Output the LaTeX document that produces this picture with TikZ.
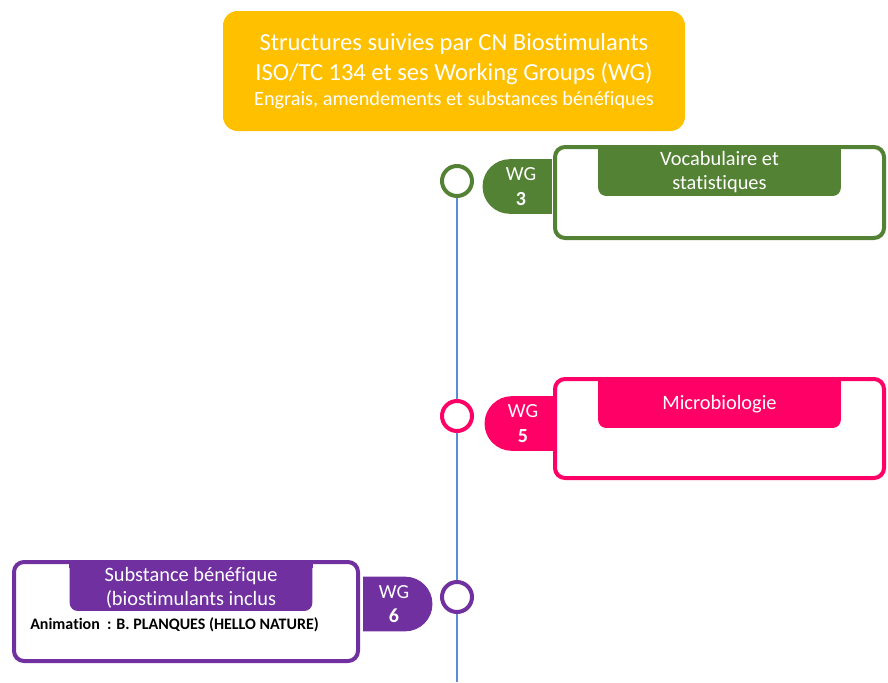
\documentclass[tikz,border=0pt]{standalone}
\usepackage{fontspec}
\setmainfont[Ligatures=NoCommon]{Carlito}
\usetikzlibrary{positioning,shapes.misc}
\definecolor{wggold}{HTML}{FFC000}
\definecolor{wggreen}{HTML}{548235}
\definecolor{wgpink}{HTML}{FF0066}
\definecolor{wgpurple}{HTML}{7030A0}
\definecolor{wgline}{HTML}{5B8DD6}
\tikzset{
  header/.style={
    fill=wggold,
    rounded corners=11pt,
    minimum width=346.5pt,
    minimum height=90pt,
    align=center,
    text=white,
    font=\fontsize{18.4}{22.5}\selectfont
  },
  milestone/.style={circle, draw=#1, line width=3pt, fill=white, minimum size=22.5pt, inner sep=0pt},
  wgtab/.style={rounded rectangle, fill=#1, minimum width=54pt, minimum height=41pt, text=white,
    align=center, inner sep=1pt, font=\fontsize{15}{18.5}\selectfont},
  groupbox/.style={draw=#1, line width=3pt, fill=white, rounded corners=7.5pt,
    minimum width=246.75pt, minimum height=74.25pt},
  titletab/.style={fill=#1, rounded corners=6pt, minimum width=182pt, minimum height=38pt},
  tabtext/.style={text=white, align=center, inner sep=0pt, font=\fontsize{15.3}{18}\selectfont},
  timeline/.style={draw=wgline, line width=0.8pt}
}
\newcommand{\squaretop}[2]{
  \fill[#2] (#1.north west) rectangle +(6pt,-6pt);
  \fill[#2] (#1.north east) rectangle +(-6pt,-6pt);
}

\begin{document}
\begin{tikzpicture}[x=0.75pt, y=-0.75pt]
  \useasboundingbox (0,0) rectangle (888,682);

  % -------------------------------------------------------------------
  % header
  % -------------------------------------------------------------------
  \node[header] (head) at (454,71) {Structures suivies par CN Biostimulants\\
    ISO/TC 134 et ses Working Groups (WG)\\[-4pt]
    {\fontsize{15.2}{18}\selectfont Engrais, amendements et substances bénéfiques}};

  % -------------------------------------------------------------------
  % timeline
  % -------------------------------------------------------------------
  \node[milestone=wggreen] (c1) at (457,181) {};
  \node[milestone=wgpink] (c2) at (457,416) {};
  \node[milestone=wgpurple] (c3) at (457,597) {};
  \coordinate (lineend) at (457,682);
  \draw[timeline] (c1) -- (c2);
  \draw[timeline] (c2) -- (c3);
  \draw[timeline] (c3) -- (lineend);

  % -------------------------------------------------------------------
  % WG3
  % -------------------------------------------------------------------
  \node[wgtab=wggreen, rounded rectangle right arc=none] (wg3) at (521,186.5) {WG\\\textbf{3}};
  \node[groupbox=wggreen, minimum height=68.25pt] (b1) at (719.5,192.5) {};
  \node[titletab=wggreen, anchor=north] (t1) at (b1.north) {};
  \squaretop{t1}{wggreen}
  \node[tabtext] (t1text) at ([yshift=-1pt]t1) {Vocabulaire et\\statistiques};

  % -------------------------------------------------------------------
  % WG5
  % -------------------------------------------------------------------
  \node[wgtab=wgpink, rounded rectangle right arc=none] (wg5) at (523,423.5) {WG\\\textbf{5}};
  \node[groupbox=wgpink] (b2) at (719.5,428.5) {};
  \node[titletab=wgpink, anchor=north] (t2) at (b2.north) {};
  \squaretop{t2}{wgpink}
  \node[tabtext] (t2text) at ([yshift=-1pt]t2) {Microbiologie};

  % -------------------------------------------------------------------
  % WG6
  % -------------------------------------------------------------------
  \node[wgtab=wgpurple, rounded rectangle left arc=none] (wg6) at (394,604) {WG\\\textbf{6}};
  \node[groupbox=wgpurple, minimum width=258pt] (b3) at (186,611.5) {};
  \node[titletab=wgpurple, anchor=north] (t3) at ([xshift=3.75pt]b3.north) {};
  \squaretop{t3}{wgpurple}
  \node[tabtext] (t3text) at ([yshift=-2pt]t3) {Substance bénéfique\\(biostimulants inclus};
  \node[anchor=west, inner sep=0pt, font=\fontsize{12}{14}\selectfont\bfseries] (anim) at (30,625)
    {Animation\ \ : B. PLANQUES (HELLO NATURE)};

\end{tikzpicture}
\end{document}
